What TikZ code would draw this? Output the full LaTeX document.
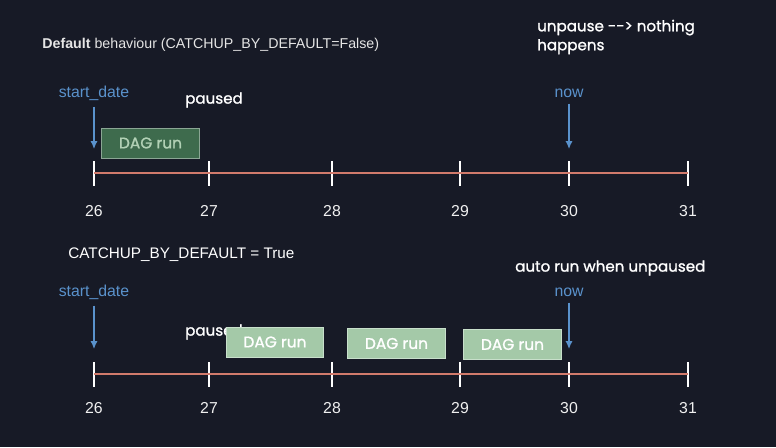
\documentclass[tikz,border=0pt]{standalone}
\usepackage{fontspec}
\setmainfont{Liberation Sans}
\newfontfamily\handfont[FakeBold=1.2]{Poppins}
\usetikzlibrary{positioning,arrows.meta}

\definecolor{bgnavy}{HTML}{171A26}
\definecolor{ptrblue}{HTML}{5A92CC}
\definecolor{lineRed}{HTML}{D27B6C}
\definecolor{runDark}{HTML}{3E6B4D}
\definecolor{runLight}{HTML}{A4C9A8}

\tikzset{
  datelbl/.style={text=white!88!gray, font=\fontsize{9}{11}\selectfont},
  ptrlbl/.style={text=ptrblue, font=\fontsize{9}{11}\selectfont},
  ptr/.style={draw=ptrblue, line width=0.7pt, -{Latex[length=4.5pt,width=4pt]}},
  tickmark/.style={draw=white, line width=1.1pt},
  timeline/.style={draw=lineRed, line width=1.6pt},
  note/.style={text=white, font=\handfont\fontsize{8.6}{10.8}\selectfont, align=left},
  dagrun/.style={minimum width=1.95cm, minimum height=0.6cm, inner sep=0pt,
    font=\handfont\fontsize{8.8}{9}\selectfont},
  rundark/.style={dagrun, fill=runDark, draw=runDark!60!white, text=runLight!85!white},
  runlight/.style={dagrun, fill=runLight, draw=runLight!60!white, text=white},
}

\begin{document}
\begin{tikzpicture}[x=0.02cm, y=-0.02cm]
  \fill[bgnavy] (0,0) rectangle (776,447);

  % Titles
  \node[anchor=west, text=white!80!gray, font=\fontsize{8.1}{9}\selectfont, inner sep=0pt]
    (title) at (42,45) {\textbf{Default} behaviour (CATCHUP\_BY\_DEFAULT=False)};
  \node[anchor=west, text=white, font=\fontsize{8.7}{10}\selectfont, inner sep=0pt]
    (title2) at (68,255) {CATCHUP\_BY\_DEFAULT = True};

  % Timelines
  \foreach \d/\x in {26/94, 27/209, 28/332, 29/460, 30/569, 31/688} {
    \coordinate (a\d) at (\x,173);
    \coordinate (b\d) at (\x,374);
    \draw[tickmark] (\x,161) -- (\x,186);
    \draw[tickmark] (\x,362) -- (\x,387);
    \node[datelbl] (la\d) at (\x,211) {\d};
    \node[datelbl] (lb\d) at (\x,408) {\d};
  }
  \draw[timeline] (a26) -- (a31);
  \draw[timeline] (b26) -- (b31);

  % Pointers
  \node[ptrlbl] (start1) at (94,93) {start\_date};
  \node[ptrlbl] (now1) at (569,93) {now};
  \node[ptrlbl] (start2) at (94,292) {start\_date};
  \node[ptrlbl] (now2) at (569,292) {now};
  \coordinate (start1e) at (94,149);
  \coordinate (now1e) at (569,149);
  \coordinate (start2e) at (94,349);
  \coordinate (now2e) at (569,349);
  \draw[ptr] (start1) -- (start1e);
  \draw[ptr] (now1) -- (now1e);
  \draw[ptr] (start2) -- (start2e);
  \draw[ptr] (now2) -- (now2e);

  % Notes
  \node[note] (paused1) at (214,100) {paused};
  \node[note, anchor=west] (paused2) at (179,332) {paused};
  \node[note, anchor=west] (unpause) at (531,37) {unpause --> nothing\\happens};
  \node[note, anchor=west] (auto) at (509,268) {auto run when unpaused};

  % DAG runs
  \node[rundark] (run0) at (150.5,143) {DAG run};
  \node[runlight] (run1) at (275,342) {DAG run};
  \node[runlight] (run2) at (396.5,343.5) {DAG run};
  \node[runlight] (run3) at (512.5,344.5) {DAG run};

\end{tikzpicture}
\end{document}
